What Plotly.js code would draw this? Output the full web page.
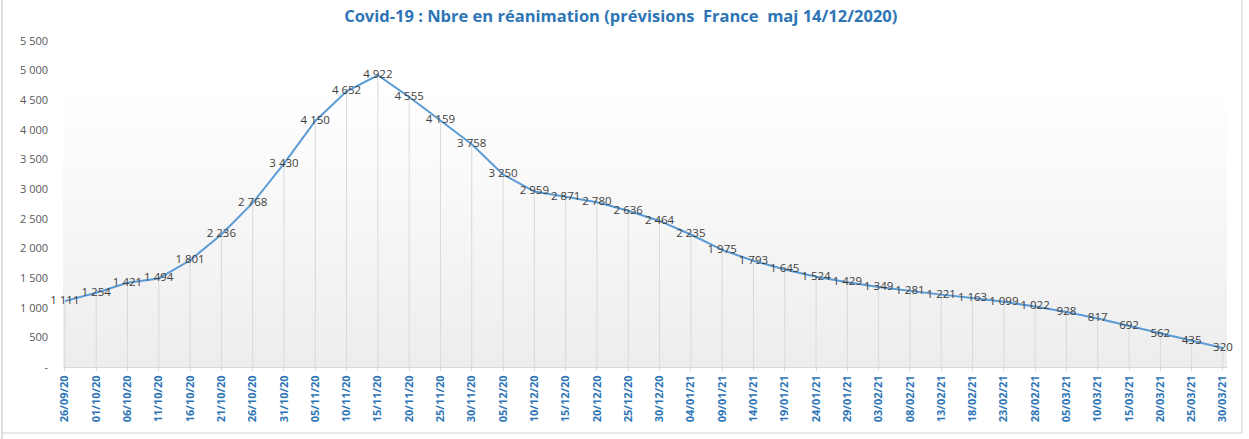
<!DOCTYPE html>
<html>
<head>
<meta charset="utf-8">
<script src="https://cdn.plot.ly/plotly-3.0.1.min.js"></script>
<style>html,body{margin:0;padding:0;background:#fff;}#chart{width:1249px;height:439px;}</style>
</head>
<body>
<div id="chart"></div>
<script>
const dates = ["26/09/20","01/10/20","06/10/20","11/10/20","16/10/20","21/10/20","26/10/20","31/10/20","05/11/20","10/11/20","15/11/20","20/11/20","25/11/20","30/11/20","05/12/20","10/12/20","15/12/20","20/12/20","25/12/20","30/12/20","04/01/21","09/01/21","14/01/21","19/01/21","24/01/21","29/01/21","03/02/21","08/02/21","13/02/21","18/02/21","23/02/21","28/02/21","05/03/21","10/03/21","15/03/21","20/03/21","25/03/21","30/03/21"];
const reanimation = [1111,1254,1421,1494,1801,2236,2768,3430,4150,4652,4922,4555,4159,3758,3250,2959,2871,2780,2636,2464,2235,1975,1793,1645,1524,1429,1349,1281,1221,1163,1099,1022,928,817,692,562,435,320];
const yTickVals = [0,500,1000,1500,2000,2500,3000,3500,4000,4500,5000,5500];
const yTickText = ["-","500","1 000","1 500","2 000","2 500","3 000","3 500","4 000","4 500","5 000","5 500"];
const titleText = "Covid-19 : Nbre en réanimation (prévisions&nbsp;&nbsp;France&nbsp;&nbsp;maj 14/12/2020)";

function fmt(v){ return String(v).replace(/\B(?=(\d{3})+(?!\d))/g, " "); }

const grad = 'data:image/svg+xml;utf8,' + encodeURIComponent(
 '<svg xmlns="http://www.w3.org/2000/svg" width="100" height="100" preserveAspectRatio="none">' +
 '<defs><linearGradient id="g" x1="0" y1="0" x2="0" y2="1">' +
 '<stop offset="0.15" stop-color="#ffffff"/><stop offset="1" stop-color="#ededed"/>' +
 '</linearGradient></defs><rect width="100" height="100" fill="url(#g)"/></svg>');

const trace = {
  type: 'scatter',
  mode: 'lines+text',
  x: dates,
  y: reanimation,
  text: reanimation.map(fmt),
  textposition: 'middle center',
  textfont: {family: 'Open Sans, sans-serif', size: 11.5, color: '#404040'},
  line: {color: '#5B9BD5', width: 2},
  cliponaxis: false,
  error_y: {type: 'data', symmetric: false, array: reanimation.map(() => 0), arrayminus: reanimation, width: 0, thickness: 1, color: '#d9d9d9'},
  hoverinfo: 'x+y'
};

const L = 63, R = 22, T = 41, B = 72, W = 1249, H = 439;
const pw = W - L - R, ph = H - T - B;
const px = v => (v - L) / pw;
const py = v => (H - B - v) / ph;

const layout = {
  width: W, height: H,
  margin: {l: L, r: R, t: T, b: B},
  paper_bgcolor: '#ffffff',
  plot_bgcolor: 'rgba(0,0,0,0)',
  showlegend: false,
  title: {text: '<b>' + titleText + '</b>', x: 0.497, xanchor: 'center', y: 0.963, yanchor: 'middle',
          font: {family: 'Open Sans, sans-serif', size: 16.5, color: '#2E75B6'}},
  xaxis: {
    type: 'category', range: [-0.06, 37.13],
    tickangle: -90, tickfont: {family: 'Open Sans, sans-serif', size: 11, color: '#2E75B6', weight: 'bold'},
    showgrid: false, zeroline: false, showline: true, linecolor: '#d9d9d9', linewidth: 1,
    ticks: 'outside', ticklen: 3, tickcolor: '#d9d9d9'
  },
  yaxis: {
    range: [0, 5500], tickvals: yTickVals, ticktext: yTickText,
    tickfont: {family: 'Open Sans, sans-serif', size: 11, color: '#595959'},
    showgrid: false, zeroline: false, showline: false, ticks: '', ticklabelstandoff: 14
  },
  images: [{source: grad, xref: 'paper', yref: 'paper', x: 0, y: 1, sizex: 1, sizey: 1, sizing: 'stretch', layer: 'below'}],
  shapes: [
    {type: 'line', xref: 'paper', yref: 'paper', x0: px(2), x1: px(2), y0: py(0), y1: py(H), line: {color: '#c0c0c0', width: 1}},
    {type: 'line', xref: 'paper', yref: 'paper', x0: px(1242), x1: px(1242), y0: py(0), y1: py(433), line: {color: '#d4d4d4', width: 1}},
    {type: 'line', xref: 'paper', yref: 'paper', x0: px(2), x1: px(1242), y0: py(433), y1: py(433), line: {color: '#d4d4d4', width: 1}}
  ]
};

Plotly.newPlot('chart', [trace], layout, {displayModeBar: false, staticPlot: true});
</script>
</body>
</html>
